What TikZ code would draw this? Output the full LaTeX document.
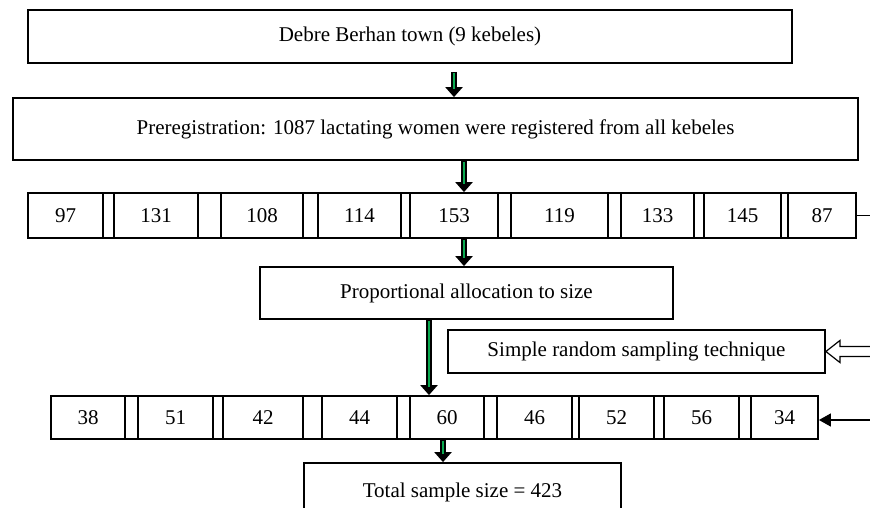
\documentclass[tikz,border=0pt]{standalone}
\usepackage{fontspec}
\setmainfont{Liberation Serif}
\usetikzlibrary{arrows.meta}
\definecolor{arrowgreen}{RGB}{10,170,80}
\tikzset{
  box/.style={draw, line width=1.8pt, inner sep=0pt, font=\fontsize{21}{25}\selectfont},
  greenarrow/.style={draw=black, line width=6.5pt, -{Triangle[width=17pt,length=10pt]},
    postaction={draw=arrowgreen, line width=2.8pt, -, shorten <=1.5pt, shorten >=8pt}},
  blackarrow/.style={line width=1.4pt, -{Triangle[width=13pt,length=12pt]}}
}
\begin{document}
\begin{tikzpicture}[x=1pt,y=-1pt]
  \useasboundingbox (0,0) rectangle (870,508);
  % main steps
  \node[box, minimum width=764pt, minimum height=53pt] (town) at (410,36.5) {Debre Berhan town (9 kebeles)};
  \node[box, minimum width=845pt, minimum height=62pt] (prereg) at (435.5,129) {Preregistration: 1087 lactating women were registered from all kebeles};
  \node[box, minimum width=413pt, minimum height=52pt] (alloc) at (466.5,293) {Proportional allocation to size};
  \node[box, minimum width=377pt, minimum height=43pt] (srs) at (636.5,351.5) {Simple random sampling technique};
  \node[box, minimum width=317pt, minimum height=58pt] (total) at (462.5,492) {Total sample size = 423};

  % kebeles, registered women
  \node[box, minimum width=828pt, minimum height=45pt] (rowA) at (442,215.5) {};
  \foreach \l/\r/\n [count=\i] in {28/103/97, 114/198/131, 221/303/108, 318/401/114, 410/498/153,
      511/608/119, 621/694/133, 704/781/145, 788/856/87} % one cell per kebele
    \node[box, minimum width={(\r-\l)*1pt}, minimum height=45pt] (a\i) at ({(\l+\r)/2},215.5) {\n};

  % kebeles, sampled women
  \node[box, minimum width=767pt, minimum height=43pt] (rowB) at (434.5,417.5) {};
  \foreach \l/\r/\n [count=\i] in {51/125/38, 138/213/51, 223/303/42, 322/397/44, 410/484/60,
      497/572/46, 579/654/52, 664/739/56, 751/818/34} % one cell per kebele
    \node[box, minimum width={(\r-\l)*1pt}, minimum height=43pt] (b\i) at ({(\l+\r)/2},417.5) {\n};

  % flow arrows
  \draw[greenarrow] ([yshift=-8pt]town.south -| 454,0) -- (prereg.north -| 454,0);
  \foreach \s/\t/\x in {prereg/rowA/464, rowA/alloc/464, alloc/rowB/429, rowB/total/443}
    \draw[greenarrow] (\s.south -| \x,0) -- (\t.north -| \x,0);

  % side marks on the right
  \coordinate (edgeA) at (872,215.5);
  \coordinate (edgeB) at (872,420);
  \draw[line width=1pt] (a9.east) -- (edgeA);
  \draw[line width=1.2pt, fill=white] (srs.east) -- ++(14,-11) -- ++(0,6) -- ++(35,0)
    -- ++(0,10) -- ++(-35,0) -- ++(0,6) -- cycle;
  \draw[blackarrow] (edgeB) -- (edgeB -| b9.east);
\end{tikzpicture}
\end{document}
